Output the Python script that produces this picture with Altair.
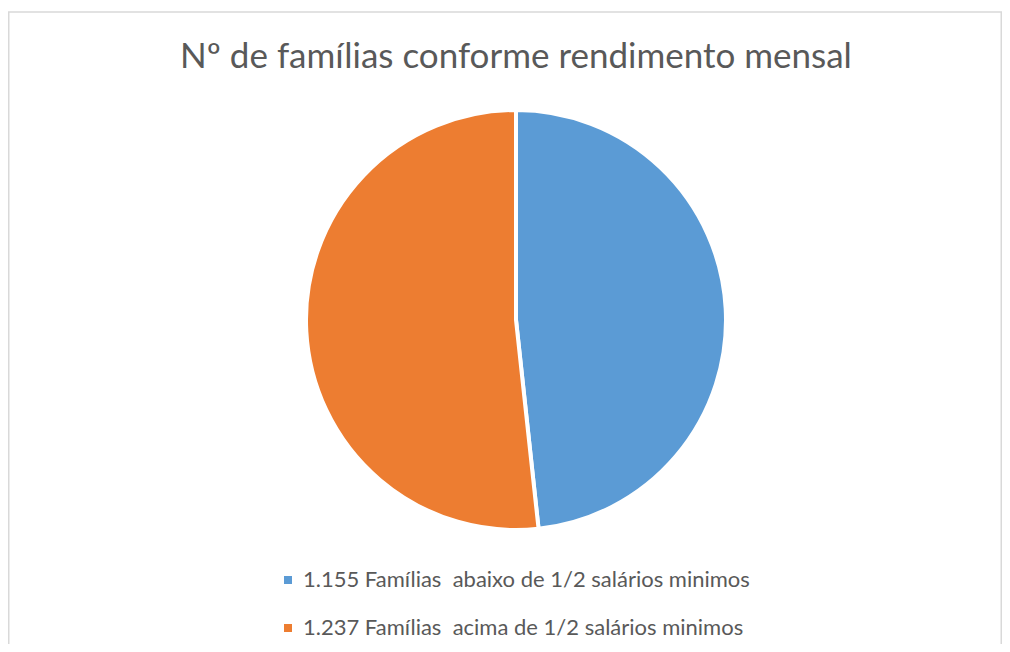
import altair as alt
import pandas as pd

title_text = "Nº de famílias conforme rendimento mensal"
categories = [
    "1.155 Famílias \u00a0abaixo de 1/2 salários minimos",
    "1.237 Famílias \u00a0acima de 1/2 salários minimos",
]
values = [1155, 1237]
colors = ["#5B9BD5", "#ED7D31"]

df = pd.DataFrame({"categoria": categories, "valor": values, "ordem": [0, 1]})
tdf = pd.DataFrame({"titulo": [title_text]})
one = pd.DataFrame({"k": [0]})

W, H = 994, 636
FONT = "Lato"
GRAY = "#595959"

pie = alt.Chart(df).mark_arc(
    outerRadius=210, stroke="white", strokeWidth=4
).encode(
    theta=alt.Theta("valor:Q", stack=True),
    order=alt.Order("ordem:Q"),
    color=alt.Color(
        "categoria:N",
        scale=alt.Scale(domain=categories, range=colors),
        legend=alt.Legend(
            title=None,
            orient="none",
            legendX=269,
            legendY=561,
            direction="vertical",
            symbolType="square",
            symbolSize=64,
            symbolStrokeWidth=0,
            labelFont=FONT,
            labelFontSize=22,
            labelColor=GRAY,
            labelOffset=4,
            rowPadding=26,
            labelLimit=700,
            padding=0,
        ),
    ),
    x=alt.value(508),
    y=alt.value(312),
)

title = alt.Chart(tdf).mark_text(
    font=FONT, fontSize=35, color=GRAY, align="center", baseline="alphabetic"
).encode(text="titulo:N", x=alt.value(508), y=alt.value(60))

border_color = "#d9d9d9"
left = alt.Chart(one).mark_rule(color=border_color, strokeWidth=1.5).encode(
    x=alt.value(0.75), y=alt.value(4), y2=alt.value(H)
)
top = alt.Chart(one).mark_rule(color=border_color, strokeWidth=1.5).encode(
    x=alt.value(0), x2=alt.value(W), y=alt.value(4)
)
right = alt.Chart(one).mark_rule(color=border_color, strokeWidth=1.5).encode(
    x=alt.value(W - 0.75), y=alt.value(4), y2=alt.value(H)
)

chart = alt.layer(left, top, right, pie, title).properties(
    width=W, height=H, autosize=alt.AutoSizeParams(type="none"),
    padding={"left": 0, "top": 0, "right": 0, "bottom": 0},
    background="white",
).configure_view(stroke=None)

chart.save("out.html", embed_options={"renderer": "svg", "actions": False})
